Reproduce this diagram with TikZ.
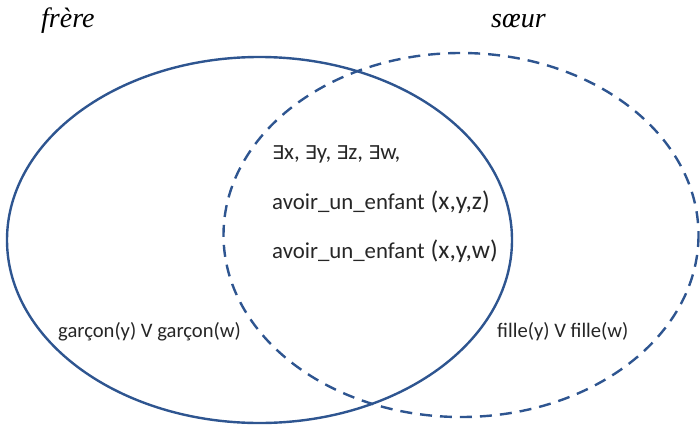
\documentclass[tikz,border=0pt]{standalone}
\usepackage{fontspec}
\setmainfont{Liberation Serif}
\setsansfont{Carlito}
\newfontfamily\symfont{DejaVu Sans}
\definecolor{vennblue}{HTML}{2E5590}
\definecolor{txt}{HTML}{262626}
\begin{document}
\begin{tikzpicture}[x=1pt,y=-1pt,
  setline/.style={draw=vennblue,line width=2.4pt},
  setdash/.style={setline,dash pattern=on 12pt off 8pt},
  title/.style={font=\fontsize{28}{30}\selectfont\itshape,text=black,inner sep=0pt,anchor=base west},
  body/.style={font=\sffamily\fontsize{22.8}{24}\selectfont,text=txt,inner sep=0pt,anchor=base west},
  small/.style={font=\sffamily\fontsize{20.6}{22}\selectfont,text=txt,inner sep=0pt,anchor=base west}]
\useasboundingbox (0,0) rectangle (700,425);
\draw[setline] (259.5,240) ellipse [x radius=252.5, y radius=183];
\draw[setdash] (461,235) ellipse [x radius=237.5, y radius=182];
\node[title] (frere) at (41,28) {frère};
\node[title] (soeur) at (491,28) {sœur};
\newcommand{\ex}{{\symfont\fontsize{19}{20}\selectfont ∃}}
\newcommand{\args}[1]{{\fontsize{25.5}{26}\selectfont(#1)}}
\node[body] (l1) at (272,159) {\ex x, \ex y, \ex z, \ex w,};
\node[body] (l2) at (272,209) {avoir\_un\_enfant\hspace{6pt}\args{x,y,z}};
\node[body] (l3) at (272,258) {avoir\_un\_enfant\hspace{6pt}\args{x,y,w}};
\node[small] (g) at (58,337) {garçon(y) V garçon(w)};
\node[small] (f) at (497,337) {fille(y) V fille(w)};
\end{tikzpicture}
\end{document}
